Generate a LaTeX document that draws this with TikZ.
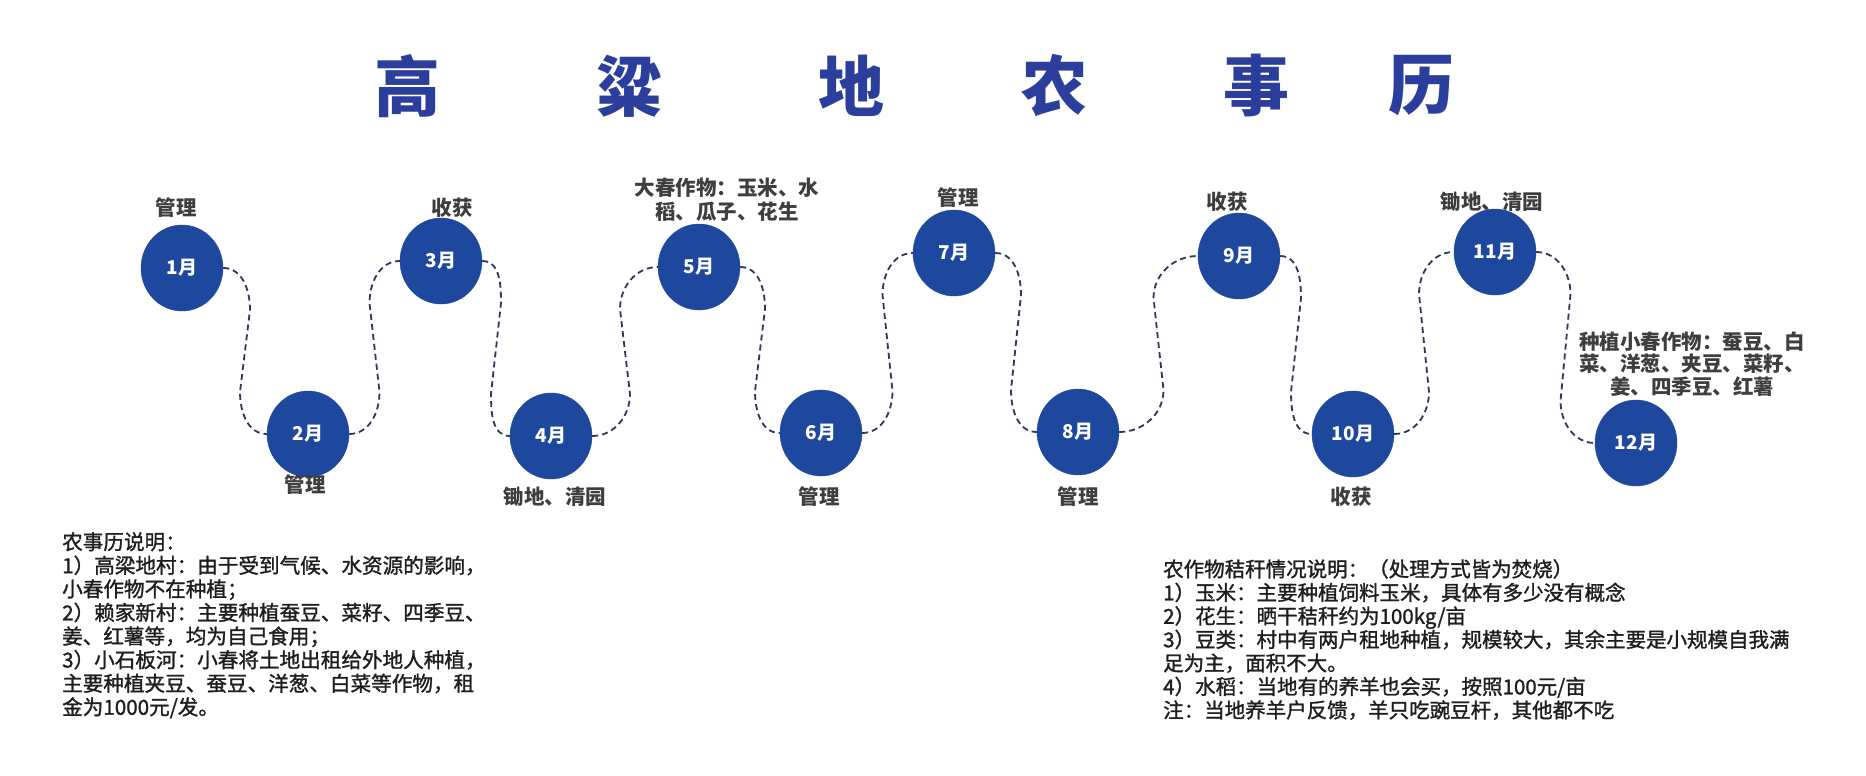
\documentclass[tikz,border=0pt]{standalone}
\usepackage{fontspec}
\setmainfont{Noto Sans CJK SC}
\newfontfamily\bodyfont{Noto Sans CJK SC}[FakeBold=1.3]
\usetikzlibrary{shapes.geometric,calc}
\definecolor{circblue}{RGB}{30,72,158}
\definecolor{titleblue}{RGB}{44,62,155}
\definecolor{connc}{RGB}{46,54,92}
\definecolor{lblgray}{RGB}{62,62,62}
\definecolor{bodyc}{RGB}{30,30,30}
\begin{document}
\begin{tikzpicture}[x=1pt,y=1pt,
  month/.style={ellipse,fill=circblue,draw=circblue,minimum width=82pt,minimum height=86pt,inner sep=0pt,
    text=white,font=\fontsize{19}{21}\selectfont\bfseries},
  lbl/.style={font=\fontsize{20.5}{23}\selectfont\bfseries,text=lblgray,align=center,inner sep=0pt},
  ttl/.style={font=\fontsize{66}{70}\selectfont\bfseries,text=titleblue,inner sep=0pt},
  body/.style={text=bodyc,align=left,inner sep=0pt,anchor=north west},
  conn/.style={draw=connc,line width=1.8pt,dash pattern=on 6pt off 4pt}]
\useasboundingbox[fill=white] (0,0) rectangle (1866,-776);
% title
\node[ttl] (t1) at (407,-86) {高};
\node[ttl] (t2) at (629,-86) {粱};
\node[ttl] (t3) at (851,-86) {地};
\node[ttl] (t4) at (1054,-86) {农};
\node[ttl] (t5) at (1256,-86) {事};
\node[ttl] (t6) at (1421,-86) {历};
% months
\node[month] (m1) at (182,-268) {1月};
\node[month] (m2) at (308,-434) {2月};
\node[month] (m3) at (441,-261) {3月};
\node[month] (m4) at (551,-436) {4月};
\node[month] (m5) at (699,-267) {5月};
\node[month] (m6) at (821,-433) {6月};
\node[month] (m7) at (954,-253) {7月};
\node[month] (m8) at (1078,-432) {8月};
\node[month] (m9) at (1239,-256) {9月};
\node[month] (m10) at (1353,-434) {10月};
\node[month] (m11) at (1495,-252) {11月};
\node[month] (m12) at (1636,-443) {12月};
% labels
\node[lbl] (l1) at (176,-208) {管理};
\node[lbl] (l2) at (305,-485) {管理};
\node[lbl] (l3) at (452,-208) {收获};
\node[lbl] (l4) at (555,-497) {锄地、清园};
\node[lbl,font=\fontsize{20.5}{24}\selectfont\bfseries] (l5) at (727,-200) {大春作物：玉米、水\\稻、瓜子、花生};
\node[lbl] (l6) at (819,-497) {管理};
\node[lbl] (l7) at (958,-198) {管理};
\node[lbl] (l8) at (1078,-497) {管理};
\node[lbl] (l9) at (1227,-202) {收获};
\node[lbl] (l10) at (1351,-497) {收获};
\node[lbl] (l11) at (1492,-202) {锄地、清园};
\node[lbl,font=\fontsize{20.5}{22.5}\selectfont\bfseries] (l12) at (1692,-364) {种植小春作物：蚕豆、白\\菜、洋葱、夹豆、菜籽、\\姜、四季豆、红薯};
% connectors
\foreach \a/\b/\i/\o/\d/\e in {m1/m2/90/-90/-42/42, m2/m3/-90/90/42/-42, m3/m4/90/-90/-42/42,
  m4/m5/-90/90/42/-42, m5/m6/90/-90/-42/42, m6/m7/-90/90/42/-42, m7/m8/90/-90/-42/42,
  m8/m9/-90/90/42/-42, m9/m10/90/-90/-42/42, m10/m11/-90/90/42/-42, m11/m12/90/-90/-42/42}
  {
  \coordinate (mid) at ($(\a.east)!0.5!(\b.west)$);
  \draw[conn] (\a.east) to[out=0,in=\i] ($(mid |- \a.east)+(5,\d)$) -- ($(mid |- \b.west)+(-5,\e)$) to[out=\o,in=180] (\b.west);
  }
% text blocks
\node[body,font=\bodyfont\fontsize{20.6}{23.6}\selectfont] (n1) at (62,-532) {农事历说明：\\
1）高梁地村：由于受到气候、水资源的影响，\\
小春作物不在种植；\\
2）赖家新村：主要种植蚕豆、菜籽、四季豆、\\
姜、红薯等，均为自己食用；\\
3）小石板河：小春将土地出租给外地人种植，\\
主要种植夹豆、蚕豆、洋葱、白菜等作物，租\\
金为1000元/发。};
\node[body,font=\bodyfont\fontsize{20.5}{23.5}\selectfont] (n2) at (1163,-559) {农作物秸秆情况说明：（处理方式皆为焚烧）\\
1）玉米：主要种植饲料玉米，具体有多少没有概念\\
2）花生：晒干秸秆约为100kg/亩\\
3）豆类：村中有两户租地种植，规模较大，其余主要是小规模自我满\\
足为主，面积不大。\\
4）水稻：当地有的养羊也会买，按照100元/亩\\
注：当地养羊户反馈，羊只吃豌豆杆，其他都不吃};
\end{tikzpicture}
\end{document}
